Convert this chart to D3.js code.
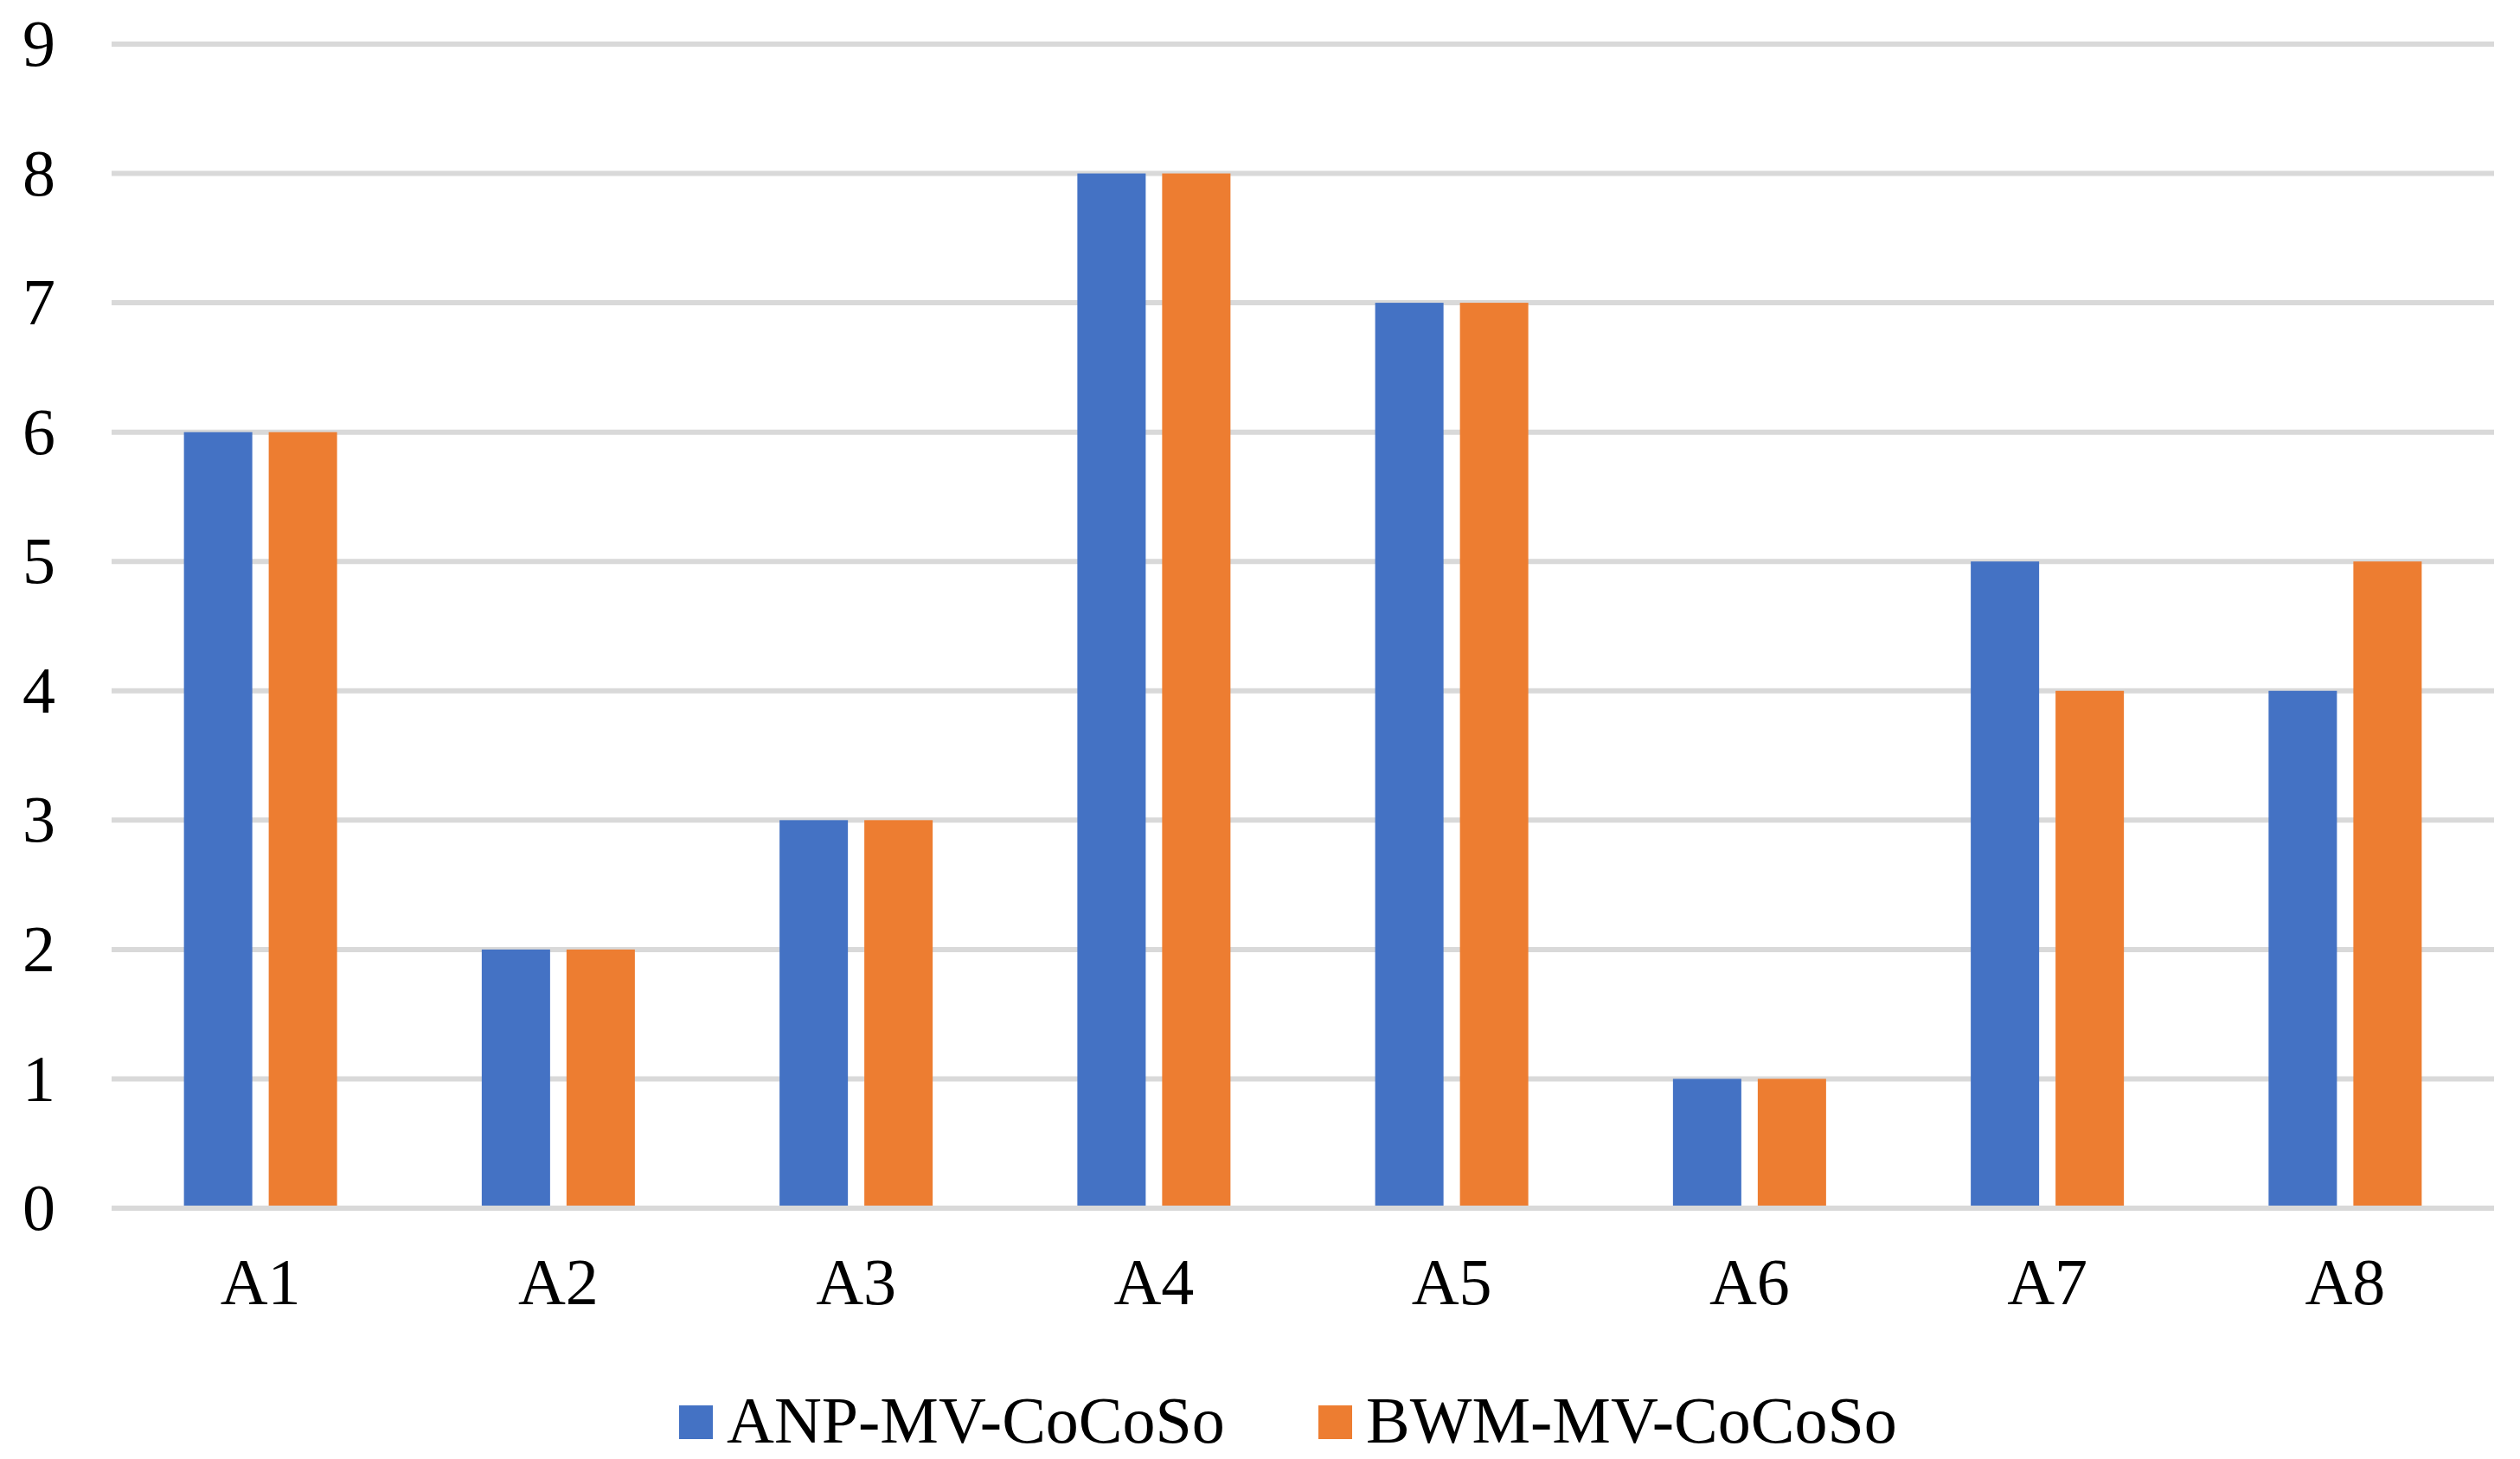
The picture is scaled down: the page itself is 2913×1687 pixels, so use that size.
<!DOCTYPE html>
<html>
<head>
<meta charset="utf-8">
<script src="https://cdn.jsdelivr.net/npm/d3@7"></script>
<style>
  html, body { margin: 0; padding: 0; background: #fff; }
  svg { display: block; }
</style>
</head>
<body>
<div class="chart"></div>
<script>
const categories = ["A1", "A2", "A3", "A4", "A5", "A6", "A7", "A8"];
const seriesNames = ["ANP-MV-CoCoSo", "BWM-MV-CoCoSo"];
const anpValues = [6, 2, 3, 8, 7, 1, 5, 4];
const bwmValues = [6, 2, 3, 8, 7, 1, 4, 5];
const yTicks = [0, 1, 2, 3, 4, 5, 6, 7, 8, 9];
const colors = ["#4472C4", "#ED7D31"];

function drawBars() {
    const width = 2913;
    const height = 1687;
    const plot = { left: 129, right: 2883, top: 51, bottom: 1397 };
    const fontSize = 76;
    const font = "'Liberation Serif', 'Times New Roman', serif";

    const rows = categories.map((c, i) => ({ cat: c, values: [anpValues[i], bwmValues[i]] }));

    const xScale = d3.scaleBand()
        .domain(categories)
        .range([plot.left, plot.right])
        .padding(0);

    // two bars per group, 79px wide with 19px between them
    const groupWidth = 177;
    const xInner = d3.scaleBand()
        .domain(d3.range(seriesNames.length))
        .range([0, groupWidth])
        .paddingInner(19 / 98)
        .paddingOuter(0);
    const groupOffset = (xScale.bandwidth() - groupWidth) / 2;

    const yScale = d3.scaleLinear()
        .domain([0, 9])
        .range([plot.bottom, plot.top]);

    const svg = d3.select(".chart")
        .append("svg")
        .attr("width", width)
        .attr("height", height);

    // gridlines
    svg.append("g")
        .selectAll("line")
        .data(yTicks)
        .enter()
        .append("line")
        .attr("x1", plot.left)
        .attr("x2", plot.right)
        .attr("y1", d => yScale(d))
        .attr("y2", d => yScale(d))
        .attr("stroke", "#D9D9D9")
        .attr("stroke-width", 6);

    // bars
    const groups = svg.append("g")
        .selectAll("g")
        .data(rows)
        .enter()
        .append("g")
        .attr("transform", d => `translate(${xScale(d.cat) + groupOffset},0)`);

    groups.selectAll("rect")
        .data(d => d.values.map((v, i) => ({ v, i })))
        .enter()
        .append("rect")
        .attr("x", d => xInner(d.i))
        .attr("width", xInner.bandwidth())
        .attr("y", d => yScale(d.v))
        .attr("height", d => yScale(0) - 3 - yScale(d.v))
        .attr("fill", d => colors[d.i]);

    // y tick labels
    svg.append("g")
        .selectAll("text")
        .data(yTicks)
        .enter()
        .append("text")
        .attr("x", 64)
        .attr("y", d => yScale(d) + fontSize * 0.33)
        .attr("text-anchor", "end")
        .style("font-family", font)
        .style("font-size", fontSize + "px")
        .text(d => d);

    // x labels
    svg.append("g")
        .selectAll("text")
        .data(categories)
        .enter()
        .append("text")
        .attr("x", d => xScale(d) + xScale.bandwidth() / 2)
        .attr("y", 1508)
        .attr("text-anchor", "middle")
        .style("font-family", font)
        .style("font-size", fontSize + "px")
        .text(d => d);

    // legend
    const legendX = [785, 1524];
    const legend = svg.append("g")
        .selectAll("g")
        .data(seriesNames)
        .enter()
        .append("g")
        .attr("transform", (d, i) => `translate(${legendX[i]},1625)`);

    legend.append("rect")
        .attr("width", 39)
        .attr("height", 39)
        .attr("fill", (d, i) => colors[i]);

    legend.append("text")
        .attr("x", 55)
        .attr("y", 43)
        .style("font-family", font)
        .style("font-size", fontSize + "px")
        .text(d => d);
}

drawBars();
</script>
</body>
</html>
